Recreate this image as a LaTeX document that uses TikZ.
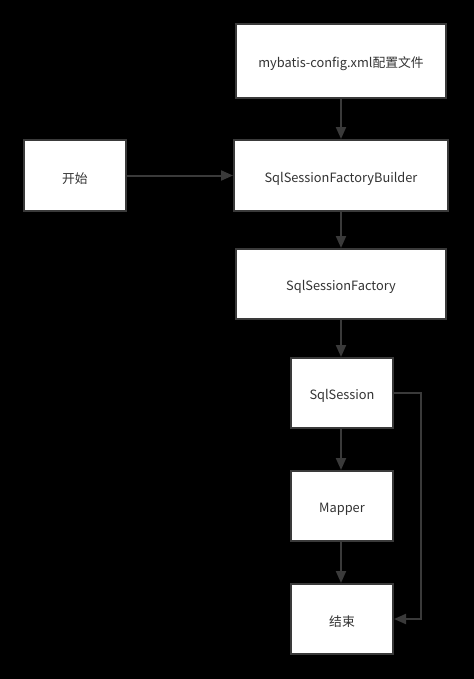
\documentclass[tikz,border=0pt]{standalone}
\usepackage{fontspec}
\setmainfont{Noto Sans CJK SC}
\usetikzlibrary{arrows.meta}
\definecolor{edge}{HTML}{3A3A3A}
\definecolor{txt}{HTML}{333333}
\newcommand{\lowtxt}[1]{\raisebox{-2.2pt}[\height][\depth]{#1}}
\tikzset{
  box/.style={draw=edge, line width=1.5pt, fill=white, inner sep=0pt, text=txt,
    font=\fontsize{9.6}{11}\selectfont},
  conn/.style={draw=edge, line width=1.5pt, -{Triangle[length=9pt,width=7.5pt]}},
}
\begin{document}
\begin{tikzpicture}[x=0.75pt,y=-0.75pt]
\fill[black] (0,0) rectangle (474,679);
\useasboundingbox (0,0) rectangle (474,679);
\node[box, minimum width=210*0.75pt, minimum height=74*0.75pt] (cfg) at (341,61) {\lowtxt{mybatis-config.xml配置文件}};
\node[box, minimum width=214*0.75pt, minimum height=71*0.75pt] (bld) at (341,175.5) {\lowtxt{SqlSessionFactoryBuilder}};
\node[box, minimum width=102*0.75pt, minimum height=71*0.75pt] (start) at (75,175.5) {\lowtxt{开始}};
\node[box, minimum width=210*0.75pt, minimum height=70*0.75pt] (fac) at (341,284) {\lowtxt{SqlSessionFactory}};
\node[box, minimum width=102*0.75pt, minimum height=70*0.75pt] (ses) at (342,393) {\lowtxt{SqlSession}};
\node[box, minimum width=102*0.75pt, minimum height=70*0.75pt] (map) at (342,506) {\lowtxt{Mapper}};
\node[box, minimum width=102*0.75pt, minimum height=70*0.75pt] (end) at (342,619) {\lowtxt{结束}};
\coordinate (r1) at (421,393);
\coordinate (r2) at (421,619);
\draw[conn] (cfg.south -| 341,0) -- (bld.north -| 341,0);
\draw[conn] (start.east) -- (bld.west);
\draw[conn] (bld.south -| 341,0) -- (fac.north -| 341,0);
\draw[conn] (fac.south -| 341,0) -- (ses.north -| 341,0);
\draw[conn] (ses.south -| 341,0) -- (map.north -| 341,0);
\draw[conn] (map.south -| 341,0) -- (end.north -| 341,0);
\draw[conn] (ses.east) -- (r1) -- (r2) -- (end.east);
\end{tikzpicture}
\end{document}
